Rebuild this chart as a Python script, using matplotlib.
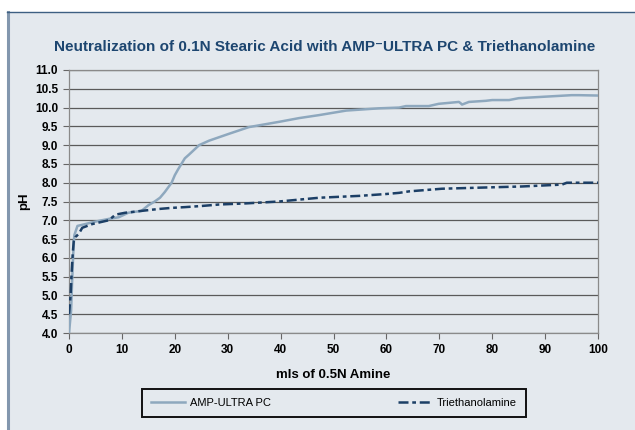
import matplotlib
matplotlib.use("Agg")
import matplotlib.pyplot as plt
from matplotlib.patches import Rectangle

# ── data ─────────────────────────────────────────────────────────────────
amp_x = [0, 0.2, 0.4, 0.6, 0.8, 1.0, 1.6, 3.1, 4.5, 6.2, 8.0, 9.4, 11.2, 13.7,
         15.0, 16.2, 17.2, 18.1, 19.4, 20.0, 20.6, 21.9, 22.7, 24.6, 26.5,
         30.2, 34.0, 39.7, 43.5, 47.3, 52.4, 58.6, 62.4, 63.7, 68.0, 69.9,
         73.7, 74.0, 74.3, 75.6, 78.8, 80.0, 83.2, 85.0, 90.0, 95.0, 96.4,
         100.0]
amp_y = [4.0, 4.3, 4.6, 5.4, 6.1, 6.6, 6.85, 6.9, 6.95, 7.0, 7.05, 7.08,
         7.2, 7.25, 7.4, 7.5, 7.6, 7.75, 8.0, 8.2, 8.35, 8.65, 8.75, 9.0,
         9.12, 9.3, 9.48, 9.62, 9.72, 9.8, 9.92, 9.98, 10.0, 10.04, 10.04,
         10.1, 10.15, 10.12, 10.08, 10.15, 10.18, 10.2, 10.2, 10.25, 10.29,
         10.33, 10.33, 10.32]

tea_x = [0, 0.3, 0.5, 0.7, 0.9, 1.2, 1.9, 2.5, 4.4, 7.5, 8.8, 10.6, 13.7,
         16.9, 19.4, 21.9, 25.0, 28.4, 33.5, 39.7, 43.5, 47.3, 54.9, 60.0,
         62.4, 64.3, 70.5, 78.0, 85.6, 93.2, 94.1, 100.0]
tea_y = [4.5, 5.0, 5.6, 6.1, 6.45, 6.55, 6.65, 6.8, 6.9, 7.0, 7.15, 7.2,
         7.25, 7.3, 7.33, 7.35, 7.38, 7.42, 7.45, 7.5, 7.55, 7.6, 7.65, 7.7,
         7.73, 7.77, 7.84, 7.87, 7.9, 7.95, 8.0, 8.0]

x_ticks = list(range(0, 101, 10))
y_ticks = [4.0 + 0.5 * i for i in range(15)]

BG = "#e4e9ee"
NAVY = "#1d4670"
AMP_C = "#8ea8be"
TEA_C = "#1c3f66"
FONT = ["Liberation Sans", "DejaVu Sans"]

plt.rcParams["font.family"] = FONT

fig = plt.figure(figsize=(6.35, 4.3), dpi=100)
fig.patch.set_facecolor("white")

# panel behind the chart
W, H = 635, 430
fig.add_artist(Rectangle((7 / W, -0.01), 1.0, 1 - 12 / H + 0.01,
                         transform=fig.transFigure, facecolor=BG,
                         edgecolor="none", zorder=-2))
fig.add_artist(plt.Line2D([8 / W, 8 / W], [0, 1 - 12 / H],
                          transform=fig.transFigure, color="#8397ae",
                          linewidth=2.2))
fig.add_artist(plt.Line2D([7 / W, 1], [1 - 12 / H, 1 - 12 / H],
                          transform=fig.transFigure, color="#3d5f82",
                          linewidth=1.0))

ax = fig.add_axes([69 / W, 1 - 333 / H, (598 - 69) / W, (333 - 70) / H])
ax.set_facecolor(BG)

ax.plot(amp_x, amp_y, color=AMP_C, linewidth=1.8, label="AMP-ULTRA PC",
        zorder=3)
ax.plot(tea_x, tea_y, color=TEA_C, linewidth=1.8,
        linestyle=(0, (4, 1.5, 1.5, 1.5)), label="Triethanolamine", zorder=4)

ax.set_xlim(0, 100)
ax.set_ylim(4.0, 11.0)
ax.set_xticks(x_ticks)
ax.set_yticks(y_ticks)
ax.set_xticklabels([str(t) for t in x_ticks], fontsize=8.5, weight="bold")
ax.set_yticklabels([f"{t:.1f}" for t in y_ticks], fontsize=8.5, weight="bold")
ax.tick_params(axis="both", direction="out", length=4, color="#666666",
               width=0.8, pad=4)
ax.grid(axis="y", color="#5a5a5a", linewidth=0.9)
ax.set_axisbelow(True)
for s in ax.spines.values():
    s.set_color("#8a8a8a")
    s.set_linewidth(0.9)

ax.set_xlabel("mls of 0.5N Amine", fontsize=9.5, weight="bold", labelpad=9)
ax.set_ylabel("pH", fontsize=9.5, weight="bold")
ax.yaxis.set_label_coords((30 - 69) / 529, 0.5)

fig.text(0.512, 1 - 47 / H,
         "Neutralization of 0.1N Stearic Acid with AMP\u207bULTRA PC & Triethanolamine",
         ha="center", va="center", fontsize=11, weight="bold", color=NAVY,
         family=FONT)

leg = fig.legend(loc="center", bbox_to_anchor=(334 / W, 1 - 403 / H), ncol=2,
                 fontsize=8, frameon=True, fancybox=False, handlelength=3.0,
                 columnspacing=11.5, borderpad=0.8, handletextpad=0.45,
                 borderaxespad=0)
frame = leg.get_frame()
frame.set_facecolor(BG)
frame.set_edgecolor("#111111")
frame.set_linewidth(1.4)
frame.set_alpha(1)

fig.savefig("out.png", dpi=100, facecolor="white")
